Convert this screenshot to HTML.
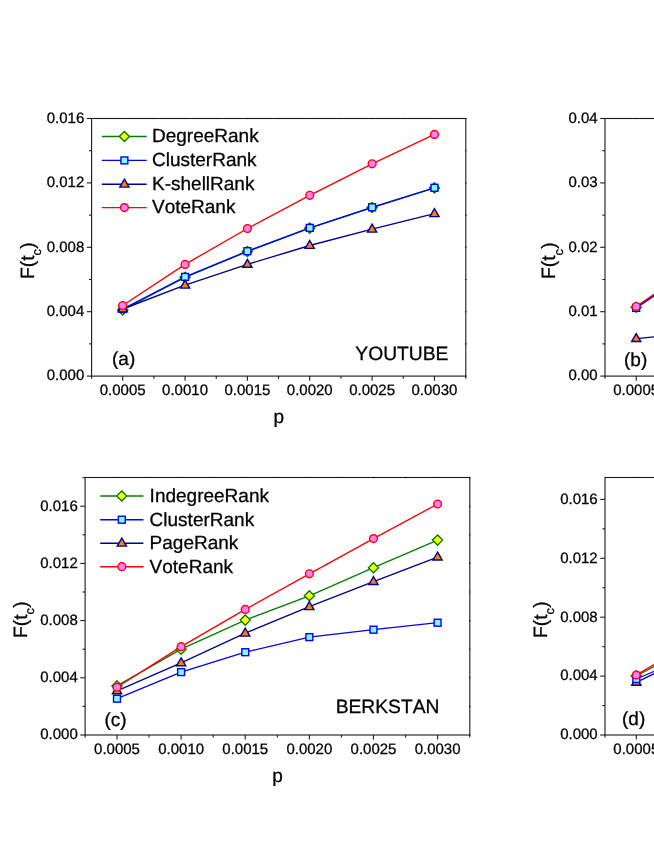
<!DOCTYPE html>
<html><head><meta charset="utf-8"><title>Figure</title>
<style>html,body{margin:0;padding:0;background:#fff;}svg{display:block;will-change:transform;}text{text-rendering:geometricPrecision;font-kerning:none;stroke:#000;stroke-width:0.28px;}</style>
</head><body>
<svg width="654" height="846" viewBox="0 0 654 846" font-family='"Liberation Sans", sans-serif' fill="#000">
<rect width="654" height="846" fill="#fff"/>
<rect x="91.6" y="118.5" width="374.20000000000005" height="257.6" fill="none" stroke="#1a1a1a" stroke-width="1.1"/>
<line x1="122.70" y1="376.1" x2="122.70" y2="380.70000000000005" stroke="#1a1a1a" stroke-width="1.1"/>
<text transform="translate(122.70 394.60) scale(1 1)" font-size="15.0" text-anchor="middle">0.0005</text>
<line x1="153.88" y1="376.1" x2="153.88" y2="378.70000000000005" stroke="#1a1a1a" stroke-width="1.1"/>
<line x1="185.05" y1="376.1" x2="185.05" y2="380.70000000000005" stroke="#1a1a1a" stroke-width="1.1"/>
<text transform="translate(185.05 394.60) scale(1 1)" font-size="15.0" text-anchor="middle">0.0010</text>
<line x1="216.23" y1="376.1" x2="216.23" y2="378.70000000000005" stroke="#1a1a1a" stroke-width="1.1"/>
<line x1="247.40" y1="376.1" x2="247.40" y2="380.70000000000005" stroke="#1a1a1a" stroke-width="1.1"/>
<text transform="translate(247.40 394.60) scale(1 1)" font-size="15.0" text-anchor="middle">0.0015</text>
<line x1="278.57" y1="376.1" x2="278.57" y2="378.70000000000005" stroke="#1a1a1a" stroke-width="1.1"/>
<line x1="309.75" y1="376.1" x2="309.75" y2="380.70000000000005" stroke="#1a1a1a" stroke-width="1.1"/>
<text transform="translate(309.75 394.60) scale(1 1)" font-size="15.0" text-anchor="middle">0.0020</text>
<line x1="340.93" y1="376.1" x2="340.93" y2="378.70000000000005" stroke="#1a1a1a" stroke-width="1.1"/>
<line x1="372.10" y1="376.1" x2="372.10" y2="380.70000000000005" stroke="#1a1a1a" stroke-width="1.1"/>
<text transform="translate(372.10 394.60) scale(1 1)" font-size="15.0" text-anchor="middle">0.0025</text>
<line x1="403.28" y1="376.1" x2="403.28" y2="378.70000000000005" stroke="#1a1a1a" stroke-width="1.1"/>
<line x1="434.45" y1="376.1" x2="434.45" y2="380.70000000000005" stroke="#1a1a1a" stroke-width="1.1"/>
<text transform="translate(434.45 394.60) scale(1 1)" font-size="15.0" text-anchor="middle">0.0030</text>
<line x1="91.60" y1="376.1" x2="91.60" y2="378.70000000000005" stroke="#1a1a1a" stroke-width="1.1"/>
<line x1="465.80" y1="376.1" x2="465.80" y2="378.70000000000005" stroke="#1a1a1a" stroke-width="1.1"/>
<line x1="86.8" y1="376.10" x2="91.6" y2="376.10" stroke="#1a1a1a" stroke-width="1.1"/>
<text transform="translate(84.30 380.10) scale(1 1)" font-size="15.0" text-anchor="end">0.000</text>
<line x1="86.8" y1="311.70" x2="91.6" y2="311.70" stroke="#1a1a1a" stroke-width="1.1"/>
<text transform="translate(84.30 316.10) scale(1 1)" font-size="15.0" text-anchor="end">0.004</text>
<line x1="86.8" y1="247.30" x2="91.6" y2="247.30" stroke="#1a1a1a" stroke-width="1.1"/>
<text transform="translate(84.30 252.10) scale(1 1)" font-size="15.0" text-anchor="end">0.008</text>
<line x1="86.8" y1="182.90" x2="91.6" y2="182.90" stroke="#1a1a1a" stroke-width="1.1"/>
<text transform="translate(84.30 187.10) scale(1 1)" font-size="15.0" text-anchor="end">0.012</text>
<line x1="86.8" y1="118.50" x2="91.6" y2="118.50" stroke="#1a1a1a" stroke-width="1.1"/>
<text transform="translate(84.30 123.10) scale(1 1)" font-size="15.0" text-anchor="end">0.016</text>
<line x1="89.0" y1="343.90" x2="91.6" y2="343.90" stroke="#1a1a1a" stroke-width="1.1"/>
<line x1="89.0" y1="279.50" x2="91.6" y2="279.50" stroke="#1a1a1a" stroke-width="1.1"/>
<line x1="89.0" y1="215.10" x2="91.6" y2="215.10" stroke="#1a1a1a" stroke-width="1.1"/>
<line x1="89.0" y1="150.70" x2="91.6" y2="150.70" stroke="#1a1a1a" stroke-width="1.1"/>
<line x1="122.70" y1="117.90" x2="122.70" y2="119.10" stroke="#000" stroke-width="1.1"/>
<line x1="185.05" y1="117.90" x2="185.05" y2="119.10" stroke="#000" stroke-width="1.1"/>
<line x1="247.40" y1="117.90" x2="247.40" y2="119.10" stroke="#000" stroke-width="1.1"/>
<line x1="309.75" y1="117.90" x2="309.75" y2="119.10" stroke="#000" stroke-width="1.1"/>
<line x1="372.10" y1="117.90" x2="372.10" y2="119.10" stroke="#000" stroke-width="1.1"/>
<line x1="434.45" y1="117.90" x2="434.45" y2="119.10" stroke="#000" stroke-width="1.1"/>
<line x1="153.88" y1="117.90" x2="153.88" y2="119.10" stroke="#000" stroke-width="1.1"/>
<line x1="216.23" y1="117.90" x2="216.23" y2="119.10" stroke="#000" stroke-width="1.1"/>
<line x1="278.57" y1="117.90" x2="278.57" y2="119.10" stroke="#000" stroke-width="1.1"/>
<line x1="340.93" y1="117.90" x2="340.93" y2="119.10" stroke="#000" stroke-width="1.1"/>
<line x1="403.28" y1="117.90" x2="403.28" y2="119.10" stroke="#000" stroke-width="1.1"/>
<line x1="465.20" y1="376.10" x2="466.40" y2="376.10" stroke="#000" stroke-width="1.1"/>
<line x1="465.20" y1="311.70" x2="466.40" y2="311.70" stroke="#000" stroke-width="1.1"/>
<line x1="465.20" y1="247.30" x2="466.40" y2="247.30" stroke="#000" stroke-width="1.1"/>
<line x1="465.20" y1="182.90" x2="466.40" y2="182.90" stroke="#000" stroke-width="1.1"/>
<line x1="465.20" y1="118.50" x2="466.40" y2="118.50" stroke="#000" stroke-width="1.1"/>
<line x1="465.20" y1="343.90" x2="466.40" y2="343.90" stroke="#000" stroke-width="1.1"/>
<line x1="465.20" y1="279.50" x2="466.40" y2="279.50" stroke="#000" stroke-width="1.1"/>
<line x1="465.20" y1="215.10" x2="466.40" y2="215.10" stroke="#000" stroke-width="1.1"/>
<line x1="465.20" y1="150.70" x2="466.40" y2="150.70" stroke="#000" stroke-width="1.1"/>
<text transform="translate(33.7,279) rotate(-90)" font-size="19.3">F(t<tspan font-size="12.74" dy="7.6">c</tspan><tspan dy="-7.6" dx="0.3">)</tspan></text>
<text transform="translate(112.00 364.60) scale(1 1)" font-size="19.0" text-anchor="start">(a)</text>
<text transform="translate(448.40 359.70) scale(1 1)" font-size="19.25" text-anchor="end">YOUTUBE</text>
<text transform="translate(278.70 423.40) scale(1 1)" font-size="19.0" text-anchor="middle">p</text>
<polyline points="122.70,309.90 185.05,277.30 247.40,251.50 309.75,228.10 372.10,207.50 434.45,187.90" fill="none" stroke="#008000" stroke-width="1.35"/>
<path d="M122.70 304.85L127.75 309.90L122.70 314.95L117.65 309.90Z" fill="#ffff00" stroke="#008000" stroke-width="1.4"/>
<path d="M185.05 272.25L190.10 277.30L185.05 282.35L180.00 277.30Z" fill="#ffff00" stroke="#008000" stroke-width="1.4"/>
<path d="M247.40 246.45L252.45 251.50L247.40 256.55L242.35 251.50Z" fill="#ffff00" stroke="#008000" stroke-width="1.4"/>
<path d="M309.75 223.05L314.80 228.10L309.75 233.15L304.70 228.10Z" fill="#ffff00" stroke="#008000" stroke-width="1.4"/>
<path d="M372.10 202.45L377.15 207.50L372.10 212.55L367.05 207.50Z" fill="#ffff00" stroke="#008000" stroke-width="1.4"/>
<path d="M434.45 182.85L439.50 187.90L434.45 192.95L429.40 187.90Z" fill="#ffff00" stroke="#008000" stroke-width="1.4"/>
<polyline points="122.70,309.00 185.05,276.90 247.40,251.20 309.75,227.90 372.10,207.30 434.45,187.80" fill="none" stroke="#0000ff" stroke-width="1.35"/>
<rect x="119.25" y="305.55" width="6.90" height="6.90" fill="#80ffff" stroke="#0000ff" stroke-width="1.4"/>
<rect x="181.60" y="273.45" width="6.90" height="6.90" fill="#80ffff" stroke="#0000ff" stroke-width="1.4"/>
<rect x="243.95" y="247.75" width="6.90" height="6.90" fill="#80ffff" stroke="#0000ff" stroke-width="1.4"/>
<rect x="306.30" y="224.45" width="6.90" height="6.90" fill="#80ffff" stroke="#0000ff" stroke-width="1.4"/>
<rect x="368.65" y="203.85" width="6.90" height="6.90" fill="#80ffff" stroke="#0000ff" stroke-width="1.4"/>
<rect x="431.00" y="184.35" width="6.90" height="6.90" fill="#80ffff" stroke="#0000ff" stroke-width="1.4"/>
<polyline points="122.70,309.00 185.05,285.20 247.40,264.40 309.75,245.50 372.10,229.20 434.45,213.70" fill="none" stroke="#000090" stroke-width="1.35"/>
<path d="M122.70 304.00L127.30 311.90L118.10 311.90Z" fill="#ff8000" stroke="#000090" stroke-width="1.4"/>
<path d="M185.05 280.20L189.65 288.10L180.45 288.10Z" fill="#ff8000" stroke="#000090" stroke-width="1.4"/>
<path d="M247.40 259.40L252.00 267.30L242.80 267.30Z" fill="#ff8000" stroke="#000090" stroke-width="1.4"/>
<path d="M309.75 240.50L314.35 248.40L305.15 248.40Z" fill="#ff8000" stroke="#000090" stroke-width="1.4"/>
<path d="M372.10 224.20L376.70 232.10L367.50 232.10Z" fill="#ff8000" stroke="#000090" stroke-width="1.4"/>
<path d="M434.45 208.70L439.05 216.60L429.85 216.60Z" fill="#ff8000" stroke="#000090" stroke-width="1.4"/>
<polyline points="122.70,305.50 185.05,264.40 247.40,228.50 309.75,195.30 372.10,163.80 434.45,134.40" fill="none" stroke="#ff0000" stroke-width="1.35"/>
<circle cx="122.70" cy="305.50" r="3.9" fill="#ff80ff" stroke="#ff0000" stroke-width="1.4"/>
<circle cx="185.05" cy="264.40" r="3.9" fill="#ff80ff" stroke="#ff0000" stroke-width="1.4"/>
<circle cx="247.40" cy="228.50" r="3.9" fill="#ff80ff" stroke="#ff0000" stroke-width="1.4"/>
<circle cx="309.75" cy="195.30" r="3.9" fill="#ff80ff" stroke="#ff0000" stroke-width="1.4"/>
<circle cx="372.10" cy="163.80" r="3.9" fill="#ff80ff" stroke="#ff0000" stroke-width="1.4"/>
<circle cx="434.45" cy="134.40" r="3.9" fill="#ff80ff" stroke="#ff0000" stroke-width="1.4"/>
<line x1="101.9" y1="136.5" x2="146.7" y2="136.5" stroke="#008000" stroke-width="1.35"/>
<path d="M124.40 131.45L129.45 136.50L124.40 141.55L119.35 136.50Z" fill="#ffff00" stroke="#008000" stroke-width="1.4"/>
<text transform="translate(152.00 142.30) scale(1 1)" font-size="19.0" text-anchor="start">DegreeRank</text>
<line x1="101.9" y1="160.4" x2="146.7" y2="160.4" stroke="#0000ff" stroke-width="1.35"/>
<rect x="120.95" y="156.95" width="6.90" height="6.90" fill="#80ffff" stroke="#0000ff" stroke-width="1.4"/>
<text transform="translate(152.00 166.20) scale(1 1)" font-size="19.0" text-anchor="start">ClusterRank</text>
<line x1="101.9" y1="184.2" x2="146.7" y2="184.2" stroke="#000090" stroke-width="1.35"/>
<path d="M124.40 179.20L129.00 187.10L119.80 187.10Z" fill="#ff8000" stroke="#000090" stroke-width="1.4"/>
<text transform="translate(152.00 190.00) scale(1 1)" font-size="19.0" text-anchor="start">K-shellRank</text>
<line x1="101.9" y1="207.6" x2="146.7" y2="207.6" stroke="#ff0000" stroke-width="1.35"/>
<circle cx="124.40" cy="207.60" r="3.9" fill="#ff80ff" stroke="#ff0000" stroke-width="1.4"/>
<text transform="translate(152.00 213.40) scale(1 1)" font-size="19.0" text-anchor="start">VoteRank</text>
<rect x="605.0" y="118.5" width="374.20000000000005" height="257.6" fill="none" stroke="#1a1a1a" stroke-width="1.1"/>
<line x1="636.20" y1="376.1" x2="636.20" y2="380.70000000000005" stroke="#1a1a1a" stroke-width="1.1"/>
<text transform="translate(636.20 394.60) scale(1 1)" font-size="15.0" text-anchor="middle">0.0005</text>
<line x1="667.38" y1="376.1" x2="667.38" y2="378.70000000000005" stroke="#1a1a1a" stroke-width="1.1"/>
<line x1="698.55" y1="376.1" x2="698.55" y2="380.70000000000005" stroke="#1a1a1a" stroke-width="1.1"/>
<text transform="translate(698.55 394.60) scale(1 1)" font-size="15.0" text-anchor="middle">0.0010</text>
<line x1="729.73" y1="376.1" x2="729.73" y2="378.70000000000005" stroke="#1a1a1a" stroke-width="1.1"/>
<line x1="760.90" y1="376.1" x2="760.90" y2="380.70000000000005" stroke="#1a1a1a" stroke-width="1.1"/>
<text transform="translate(760.90 394.60) scale(1 1)" font-size="15.0" text-anchor="middle">0.0015</text>
<line x1="792.08" y1="376.1" x2="792.08" y2="378.70000000000005" stroke="#1a1a1a" stroke-width="1.1"/>
<line x1="823.25" y1="376.1" x2="823.25" y2="380.70000000000005" stroke="#1a1a1a" stroke-width="1.1"/>
<text transform="translate(823.25 394.60) scale(1 1)" font-size="15.0" text-anchor="middle">0.0020</text>
<line x1="854.42" y1="376.1" x2="854.42" y2="378.70000000000005" stroke="#1a1a1a" stroke-width="1.1"/>
<line x1="885.60" y1="376.1" x2="885.60" y2="380.70000000000005" stroke="#1a1a1a" stroke-width="1.1"/>
<text transform="translate(885.60 394.60) scale(1 1)" font-size="15.0" text-anchor="middle">0.0025</text>
<line x1="916.77" y1="376.1" x2="916.77" y2="378.70000000000005" stroke="#1a1a1a" stroke-width="1.1"/>
<line x1="947.95" y1="376.1" x2="947.95" y2="380.70000000000005" stroke="#1a1a1a" stroke-width="1.1"/>
<text transform="translate(947.95 394.60) scale(1 1)" font-size="15.0" text-anchor="middle">0.0030</text>
<line x1="605.00" y1="376.1" x2="605.00" y2="378.70000000000005" stroke="#1a1a1a" stroke-width="1.1"/>
<line x1="979.20" y1="376.1" x2="979.20" y2="378.70000000000005" stroke="#1a1a1a" stroke-width="1.1"/>
<line x1="600.2" y1="376.10" x2="605.0" y2="376.10" stroke="#1a1a1a" stroke-width="1.1"/>
<text transform="translate(597.70 380.10) scale(1 1)" font-size="15.0" text-anchor="end">0.00</text>
<line x1="600.2" y1="311.70" x2="605.0" y2="311.70" stroke="#1a1a1a" stroke-width="1.1"/>
<text transform="translate(597.70 316.10) scale(1 1)" font-size="15.0" text-anchor="end">0.01</text>
<line x1="600.2" y1="247.30" x2="605.0" y2="247.30" stroke="#1a1a1a" stroke-width="1.1"/>
<text transform="translate(597.70 252.10) scale(1 1)" font-size="15.0" text-anchor="end">0.02</text>
<line x1="600.2" y1="182.90" x2="605.0" y2="182.90" stroke="#1a1a1a" stroke-width="1.1"/>
<text transform="translate(597.70 187.10) scale(1 1)" font-size="15.0" text-anchor="end">0.03</text>
<line x1="600.2" y1="118.50" x2="605.0" y2="118.50" stroke="#1a1a1a" stroke-width="1.1"/>
<text transform="translate(597.70 123.10) scale(1 1)" font-size="15.0" text-anchor="end">0.04</text>
<line x1="602.4" y1="343.90" x2="605.0" y2="343.90" stroke="#1a1a1a" stroke-width="1.1"/>
<line x1="602.4" y1="279.50" x2="605.0" y2="279.50" stroke="#1a1a1a" stroke-width="1.1"/>
<line x1="602.4" y1="215.10" x2="605.0" y2="215.10" stroke="#1a1a1a" stroke-width="1.1"/>
<line x1="602.4" y1="150.70" x2="605.0" y2="150.70" stroke="#1a1a1a" stroke-width="1.1"/>
<line x1="636.20" y1="117.90" x2="636.20" y2="119.10" stroke="#000" stroke-width="1.1"/>
<line x1="698.55" y1="117.90" x2="698.55" y2="119.10" stroke="#000" stroke-width="1.1"/>
<line x1="760.90" y1="117.90" x2="760.90" y2="119.10" stroke="#000" stroke-width="1.1"/>
<line x1="823.25" y1="117.90" x2="823.25" y2="119.10" stroke="#000" stroke-width="1.1"/>
<line x1="885.60" y1="117.90" x2="885.60" y2="119.10" stroke="#000" stroke-width="1.1"/>
<line x1="947.95" y1="117.90" x2="947.95" y2="119.10" stroke="#000" stroke-width="1.1"/>
<line x1="667.38" y1="117.90" x2="667.38" y2="119.10" stroke="#000" stroke-width="1.1"/>
<line x1="729.73" y1="117.90" x2="729.73" y2="119.10" stroke="#000" stroke-width="1.1"/>
<line x1="792.08" y1="117.90" x2="792.08" y2="119.10" stroke="#000" stroke-width="1.1"/>
<line x1="854.42" y1="117.90" x2="854.42" y2="119.10" stroke="#000" stroke-width="1.1"/>
<line x1="916.77" y1="117.90" x2="916.77" y2="119.10" stroke="#000" stroke-width="1.1"/>
<line x1="978.60" y1="376.10" x2="979.80" y2="376.10" stroke="#000" stroke-width="1.1"/>
<line x1="978.60" y1="311.70" x2="979.80" y2="311.70" stroke="#000" stroke-width="1.1"/>
<line x1="978.60" y1="247.30" x2="979.80" y2="247.30" stroke="#000" stroke-width="1.1"/>
<line x1="978.60" y1="182.90" x2="979.80" y2="182.90" stroke="#000" stroke-width="1.1"/>
<line x1="978.60" y1="118.50" x2="979.80" y2="118.50" stroke="#000" stroke-width="1.1"/>
<line x1="978.60" y1="343.90" x2="979.80" y2="343.90" stroke="#000" stroke-width="1.1"/>
<line x1="978.60" y1="279.50" x2="979.80" y2="279.50" stroke="#000" stroke-width="1.1"/>
<line x1="978.60" y1="215.10" x2="979.80" y2="215.10" stroke="#000" stroke-width="1.1"/>
<line x1="978.60" y1="150.70" x2="979.80" y2="150.70" stroke="#000" stroke-width="1.1"/>
<text transform="translate(555.1,279) rotate(-90)" font-size="19.3">F(t<tspan font-size="12.74" dy="7.6">c</tspan><tspan dy="-7.6" dx="0.3">)</tspan></text>
<text transform="translate(624.00 365.60) scale(1 1)" font-size="19.0" text-anchor="start">(b)</text>
<polyline points="636.20,307.20 698.55,265.00" fill="none" stroke="#008000" stroke-width="1.35"/>
<path d="M636.20 302.15L641.25 307.20L636.20 312.25L631.15 307.20Z" fill="#ffff00" stroke="#008000" stroke-width="1.4"/>
<path d="M698.55 259.95L703.60 265.00L698.55 270.05L693.50 265.00Z" fill="#ffff00" stroke="#008000" stroke-width="1.4"/>
<polyline points="636.20,307.90 698.55,265.60" fill="none" stroke="#0000ff" stroke-width="1.35"/>
<rect x="632.75" y="304.45" width="6.90" height="6.90" fill="#80ffff" stroke="#0000ff" stroke-width="1.4"/>
<rect x="695.10" y="262.15" width="6.90" height="6.90" fill="#80ffff" stroke="#0000ff" stroke-width="1.4"/>
<polyline points="636.20,338.60 698.55,332.50" fill="none" stroke="#000090" stroke-width="1.35"/>
<path d="M636.20 333.60L640.80 341.50L631.60 341.50Z" fill="#ff8000" stroke="#000090" stroke-width="1.4"/>
<path d="M698.55 327.50L703.15 335.40L693.95 335.40Z" fill="#ff8000" stroke="#000090" stroke-width="1.4"/>
<polyline points="636.20,306.50 698.55,264.10" fill="none" stroke="#ff0000" stroke-width="1.35"/>
<circle cx="636.20" cy="306.50" r="3.9" fill="#ff80ff" stroke="#ff0000" stroke-width="1.4"/>
<circle cx="698.55" cy="264.10" r="3.9" fill="#ff80ff" stroke="#ff0000" stroke-width="1.4"/>
<rect x="85.1" y="477.5" width="384.70000000000005" height="257.5" fill="none" stroke="#1a1a1a" stroke-width="1.1"/>
<line x1="117.00" y1="735.0" x2="117.00" y2="739.6" stroke="#1a1a1a" stroke-width="1.1"/>
<text transform="translate(117.00 753.60) scale(1 1)" font-size="15.0" text-anchor="middle">0.0005</text>
<line x1="149.06" y1="735.0" x2="149.06" y2="737.6" stroke="#1a1a1a" stroke-width="1.1"/>
<line x1="181.12" y1="735.0" x2="181.12" y2="739.6" stroke="#1a1a1a" stroke-width="1.1"/>
<text transform="translate(181.12 753.60) scale(1 1)" font-size="15.0" text-anchor="middle">0.0010</text>
<line x1="213.18" y1="735.0" x2="213.18" y2="737.6" stroke="#1a1a1a" stroke-width="1.1"/>
<line x1="245.24" y1="735.0" x2="245.24" y2="739.6" stroke="#1a1a1a" stroke-width="1.1"/>
<text transform="translate(245.24 753.60) scale(1 1)" font-size="15.0" text-anchor="middle">0.0015</text>
<line x1="277.30" y1="735.0" x2="277.30" y2="737.6" stroke="#1a1a1a" stroke-width="1.1"/>
<line x1="309.36" y1="735.0" x2="309.36" y2="739.6" stroke="#1a1a1a" stroke-width="1.1"/>
<text transform="translate(309.36 753.60) scale(1 1)" font-size="15.0" text-anchor="middle">0.0020</text>
<line x1="341.42" y1="735.0" x2="341.42" y2="737.6" stroke="#1a1a1a" stroke-width="1.1"/>
<line x1="373.48" y1="735.0" x2="373.48" y2="739.6" stroke="#1a1a1a" stroke-width="1.1"/>
<text transform="translate(373.48 753.60) scale(1 1)" font-size="15.0" text-anchor="middle">0.0025</text>
<line x1="405.54" y1="735.0" x2="405.54" y2="737.6" stroke="#1a1a1a" stroke-width="1.1"/>
<line x1="437.60" y1="735.0" x2="437.60" y2="739.6" stroke="#1a1a1a" stroke-width="1.1"/>
<text transform="translate(437.60 753.60) scale(1 1)" font-size="15.0" text-anchor="middle">0.0030</text>
<line x1="85.10" y1="735.0" x2="85.10" y2="737.6" stroke="#1a1a1a" stroke-width="1.1"/>
<line x1="469.80" y1="735.0" x2="469.80" y2="737.6" stroke="#1a1a1a" stroke-width="1.1"/>
<line x1="80.3" y1="735.00" x2="85.1" y2="735.00" stroke="#1a1a1a" stroke-width="1.1"/>
<text transform="translate(77.80 739.10) scale(1 1)" font-size="15.0" text-anchor="end">0.000</text>
<line x1="80.3" y1="677.80" x2="85.1" y2="677.80" stroke="#1a1a1a" stroke-width="1.1"/>
<text transform="translate(77.80 682.10) scale(1 1)" font-size="15.0" text-anchor="end">0.004</text>
<line x1="80.3" y1="620.60" x2="85.1" y2="620.60" stroke="#1a1a1a" stroke-width="1.1"/>
<text transform="translate(77.80 625.10) scale(1 1)" font-size="15.0" text-anchor="end">0.008</text>
<line x1="80.3" y1="563.40" x2="85.1" y2="563.40" stroke="#1a1a1a" stroke-width="1.1"/>
<text transform="translate(77.80 568.10) scale(1 1)" font-size="15.0" text-anchor="end">0.012</text>
<line x1="80.3" y1="506.20" x2="85.1" y2="506.20" stroke="#1a1a1a" stroke-width="1.1"/>
<text transform="translate(77.80 511.10) scale(1 1)" font-size="15.0" text-anchor="end">0.016</text>
<line x1="82.5" y1="706.40" x2="85.1" y2="706.40" stroke="#1a1a1a" stroke-width="1.1"/>
<line x1="82.5" y1="649.20" x2="85.1" y2="649.20" stroke="#1a1a1a" stroke-width="1.1"/>
<line x1="82.5" y1="592.00" x2="85.1" y2="592.00" stroke="#1a1a1a" stroke-width="1.1"/>
<line x1="82.5" y1="534.80" x2="85.1" y2="534.80" stroke="#1a1a1a" stroke-width="1.1"/>
<line x1="82.5" y1="477.60" x2="85.1" y2="477.60" stroke="#1a1a1a" stroke-width="1.1"/>
<line x1="117.00" y1="476.90" x2="117.00" y2="478.10" stroke="#000" stroke-width="1.1"/>
<line x1="181.12" y1="476.90" x2="181.12" y2="478.10" stroke="#000" stroke-width="1.1"/>
<line x1="245.24" y1="476.90" x2="245.24" y2="478.10" stroke="#000" stroke-width="1.1"/>
<line x1="309.36" y1="476.90" x2="309.36" y2="478.10" stroke="#000" stroke-width="1.1"/>
<line x1="373.48" y1="476.90" x2="373.48" y2="478.10" stroke="#000" stroke-width="1.1"/>
<line x1="437.60" y1="476.90" x2="437.60" y2="478.10" stroke="#000" stroke-width="1.1"/>
<line x1="149.06" y1="476.90" x2="149.06" y2="478.10" stroke="#000" stroke-width="1.1"/>
<line x1="213.18" y1="476.90" x2="213.18" y2="478.10" stroke="#000" stroke-width="1.1"/>
<line x1="277.30" y1="476.90" x2="277.30" y2="478.10" stroke="#000" stroke-width="1.1"/>
<line x1="341.42" y1="476.90" x2="341.42" y2="478.10" stroke="#000" stroke-width="1.1"/>
<line x1="405.54" y1="476.90" x2="405.54" y2="478.10" stroke="#000" stroke-width="1.1"/>
<line x1="469.20" y1="735.00" x2="470.40" y2="735.00" stroke="#000" stroke-width="1.1"/>
<line x1="469.20" y1="677.80" x2="470.40" y2="677.80" stroke="#000" stroke-width="1.1"/>
<line x1="469.20" y1="620.60" x2="470.40" y2="620.60" stroke="#000" stroke-width="1.1"/>
<line x1="469.20" y1="563.40" x2="470.40" y2="563.40" stroke="#000" stroke-width="1.1"/>
<line x1="469.20" y1="506.20" x2="470.40" y2="506.20" stroke="#000" stroke-width="1.1"/>
<line x1="469.20" y1="706.40" x2="470.40" y2="706.40" stroke="#000" stroke-width="1.1"/>
<line x1="469.20" y1="649.20" x2="470.40" y2="649.20" stroke="#000" stroke-width="1.1"/>
<line x1="469.20" y1="592.00" x2="470.40" y2="592.00" stroke="#000" stroke-width="1.1"/>
<line x1="469.20" y1="534.80" x2="470.40" y2="534.80" stroke="#000" stroke-width="1.1"/>
<line x1="469.20" y1="477.60" x2="470.40" y2="477.60" stroke="#000" stroke-width="1.1"/>
<text transform="translate(26.8,638) rotate(-90)" font-size="19.3">F(t<tspan font-size="12.74" dy="7.6">c</tspan><tspan dy="-7.6" dx="0.3">)</tspan></text>
<text transform="translate(104.50 725.60) scale(1 1)" font-size="19.0" text-anchor="start">(c)</text>
<text transform="translate(439.40 713.00) scale(1 1)" font-size="19.25" text-anchor="end">BERKSTAN</text>
<text transform="translate(277.45 782.00) scale(1 1)" font-size="19.0" text-anchor="middle">p</text>
<polyline points="117.00,685.90 181.12,649.20 245.24,620.10 309.36,595.80 373.48,567.70 437.60,540.10" fill="none" stroke="#008000" stroke-width="1.35"/>
<path d="M117.00 680.85L122.05 685.90L117.00 690.95L111.95 685.90Z" fill="#ffff00" stroke="#008000" stroke-width="1.4"/>
<path d="M181.12 644.15L186.17 649.20L181.12 654.25L176.07 649.20Z" fill="#ffff00" stroke="#008000" stroke-width="1.4"/>
<path d="M245.24 615.05L250.29 620.10L245.24 625.15L240.19 620.10Z" fill="#ffff00" stroke="#008000" stroke-width="1.4"/>
<path d="M309.36 590.75L314.41 595.80L309.36 600.85L304.31 595.80Z" fill="#ffff00" stroke="#008000" stroke-width="1.4"/>
<path d="M373.48 562.65L378.53 567.70L373.48 572.75L368.43 567.70Z" fill="#ffff00" stroke="#008000" stroke-width="1.4"/>
<path d="M437.60 535.05L442.65 540.10L437.60 545.15L432.55 540.10Z" fill="#ffff00" stroke="#008000" stroke-width="1.4"/>
<polyline points="117.00,698.70 181.12,672.10 245.24,652.20 309.36,637.10 373.48,629.70 437.60,622.70" fill="none" stroke="#0000ff" stroke-width="1.35"/>
<rect x="113.55" y="695.25" width="6.90" height="6.90" fill="#80ffff" stroke="#0000ff" stroke-width="1.4"/>
<rect x="177.67" y="668.65" width="6.90" height="6.90" fill="#80ffff" stroke="#0000ff" stroke-width="1.4"/>
<rect x="241.79" y="648.75" width="6.90" height="6.90" fill="#80ffff" stroke="#0000ff" stroke-width="1.4"/>
<rect x="305.91" y="633.65" width="6.90" height="6.90" fill="#80ffff" stroke="#0000ff" stroke-width="1.4"/>
<rect x="370.03" y="626.25" width="6.90" height="6.90" fill="#80ffff" stroke="#0000ff" stroke-width="1.4"/>
<rect x="434.15" y="619.25" width="6.90" height="6.90" fill="#80ffff" stroke="#0000ff" stroke-width="1.4"/>
<polyline points="117.00,690.90 181.12,662.80 245.24,633.20 309.36,606.70 373.48,581.60 437.60,557.10" fill="none" stroke="#000090" stroke-width="1.35"/>
<path d="M117.00 685.90L121.60 693.80L112.40 693.80Z" fill="#ff8000" stroke="#000090" stroke-width="1.4"/>
<path d="M181.12 657.80L185.72 665.70L176.52 665.70Z" fill="#ff8000" stroke="#000090" stroke-width="1.4"/>
<path d="M245.24 628.20L249.84 636.10L240.64 636.10Z" fill="#ff8000" stroke="#000090" stroke-width="1.4"/>
<path d="M309.36 601.70L313.96 609.60L304.76 609.60Z" fill="#ff8000" stroke="#000090" stroke-width="1.4"/>
<path d="M373.48 576.60L378.08 584.50L368.88 584.50Z" fill="#ff8000" stroke="#000090" stroke-width="1.4"/>
<path d="M437.60 552.10L442.20 560.00L433.00 560.00Z" fill="#ff8000" stroke="#000090" stroke-width="1.4"/>
<polyline points="117.00,687.20 181.12,646.70 245.24,609.40 309.36,573.80 373.48,538.60 437.60,504.00" fill="none" stroke="#ff0000" stroke-width="1.35"/>
<circle cx="117.00" cy="687.20" r="3.9" fill="#ff80ff" stroke="#ff0000" stroke-width="1.4"/>
<circle cx="181.12" cy="646.70" r="3.9" fill="#ff80ff" stroke="#ff0000" stroke-width="1.4"/>
<circle cx="245.24" cy="609.40" r="3.9" fill="#ff80ff" stroke="#ff0000" stroke-width="1.4"/>
<circle cx="309.36" cy="573.80" r="3.9" fill="#ff80ff" stroke="#ff0000" stroke-width="1.4"/>
<circle cx="373.48" cy="538.60" r="3.9" fill="#ff80ff" stroke="#ff0000" stroke-width="1.4"/>
<circle cx="437.60" cy="504.00" r="3.9" fill="#ff80ff" stroke="#ff0000" stroke-width="1.4"/>
<line x1="100.2" y1="496.0" x2="143.4" y2="496.0" stroke="#008000" stroke-width="1.35"/>
<path d="M121.80 490.95L126.85 496.00L121.80 501.05L116.75 496.00Z" fill="#ffff00" stroke="#008000" stroke-width="1.4"/>
<text transform="translate(149.60 501.80) scale(1 1)" font-size="19.0" text-anchor="start">IndegreeRank</text>
<line x1="100.2" y1="519.7" x2="143.4" y2="519.7" stroke="#0000ff" stroke-width="1.35"/>
<rect x="118.35" y="516.25" width="6.90" height="6.90" fill="#80ffff" stroke="#0000ff" stroke-width="1.4"/>
<text transform="translate(149.60 525.50) scale(1 1)" font-size="19.0" text-anchor="start">ClusterRank</text>
<line x1="100.2" y1="543.2" x2="143.4" y2="543.2" stroke="#000090" stroke-width="1.35"/>
<path d="M121.80 538.20L126.40 546.10L117.20 546.10Z" fill="#ff8000" stroke="#000090" stroke-width="1.4"/>
<text transform="translate(149.60 549.00) scale(1 1)" font-size="19.0" text-anchor="start">PageRank</text>
<line x1="100.2" y1="566.7" x2="143.4" y2="566.7" stroke="#ff0000" stroke-width="1.35"/>
<circle cx="121.80" cy="566.70" r="3.9" fill="#ff80ff" stroke="#ff0000" stroke-width="1.4"/>
<text transform="translate(149.60 572.50) scale(1 1)" font-size="19.0" text-anchor="start">VoteRank</text>
<rect x="605.0" y="477.5" width="384.70000000000005" height="257.5" fill="none" stroke="#1a1a1a" stroke-width="1.1"/>
<line x1="636.30" y1="735.0" x2="636.30" y2="739.6" stroke="#1a1a1a" stroke-width="1.1"/>
<text transform="translate(636.30 753.60) scale(1 1)" font-size="15.0" text-anchor="middle">0.0005</text>
<line x1="668.36" y1="735.0" x2="668.36" y2="737.6" stroke="#1a1a1a" stroke-width="1.1"/>
<line x1="700.42" y1="735.0" x2="700.42" y2="739.6" stroke="#1a1a1a" stroke-width="1.1"/>
<text transform="translate(700.42 753.60) scale(1 1)" font-size="15.0" text-anchor="middle">0.0010</text>
<line x1="732.48" y1="735.0" x2="732.48" y2="737.6" stroke="#1a1a1a" stroke-width="1.1"/>
<line x1="764.54" y1="735.0" x2="764.54" y2="739.6" stroke="#1a1a1a" stroke-width="1.1"/>
<text transform="translate(764.54 753.60) scale(1 1)" font-size="15.0" text-anchor="middle">0.0015</text>
<line x1="796.60" y1="735.0" x2="796.60" y2="737.6" stroke="#1a1a1a" stroke-width="1.1"/>
<line x1="828.66" y1="735.0" x2="828.66" y2="739.6" stroke="#1a1a1a" stroke-width="1.1"/>
<text transform="translate(828.66 753.60) scale(1 1)" font-size="15.0" text-anchor="middle">0.0020</text>
<line x1="860.72" y1="735.0" x2="860.72" y2="737.6" stroke="#1a1a1a" stroke-width="1.1"/>
<line x1="892.78" y1="735.0" x2="892.78" y2="739.6" stroke="#1a1a1a" stroke-width="1.1"/>
<text transform="translate(892.78 753.60) scale(1 1)" font-size="15.0" text-anchor="middle">0.0025</text>
<line x1="924.84" y1="735.0" x2="924.84" y2="737.6" stroke="#1a1a1a" stroke-width="1.1"/>
<line x1="956.90" y1="735.0" x2="956.90" y2="739.6" stroke="#1a1a1a" stroke-width="1.1"/>
<text transform="translate(956.90 753.60) scale(1 1)" font-size="15.0" text-anchor="middle">0.0030</text>
<line x1="605.00" y1="735.0" x2="605.00" y2="737.6" stroke="#1a1a1a" stroke-width="1.1"/>
<line x1="989.70" y1="735.0" x2="989.70" y2="737.6" stroke="#1a1a1a" stroke-width="1.1"/>
<line x1="600.2" y1="735.00" x2="605.0" y2="735.00" stroke="#1a1a1a" stroke-width="1.1"/>
<text transform="translate(597.70 739.10) scale(1 1)" font-size="15.0" text-anchor="end">0.000</text>
<line x1="600.2" y1="676.10" x2="605.0" y2="676.10" stroke="#1a1a1a" stroke-width="1.1"/>
<text transform="translate(597.70 680.10) scale(1 1)" font-size="15.0" text-anchor="end">0.004</text>
<line x1="600.2" y1="617.20" x2="605.0" y2="617.20" stroke="#1a1a1a" stroke-width="1.1"/>
<text transform="translate(597.70 622.10) scale(1 1)" font-size="15.0" text-anchor="end">0.008</text>
<line x1="600.2" y1="558.30" x2="605.0" y2="558.30" stroke="#1a1a1a" stroke-width="1.1"/>
<text transform="translate(597.70 563.10) scale(1 1)" font-size="15.0" text-anchor="end">0.012</text>
<line x1="600.2" y1="499.40" x2="605.0" y2="499.40" stroke="#1a1a1a" stroke-width="1.1"/>
<text transform="translate(597.70 504.10) scale(1 1)" font-size="15.0" text-anchor="end">0.016</text>
<line x1="602.4" y1="705.55" x2="605.0" y2="705.55" stroke="#1a1a1a" stroke-width="1.1"/>
<line x1="602.4" y1="646.65" x2="605.0" y2="646.65" stroke="#1a1a1a" stroke-width="1.1"/>
<line x1="602.4" y1="587.75" x2="605.0" y2="587.75" stroke="#1a1a1a" stroke-width="1.1"/>
<line x1="602.4" y1="528.85" x2="605.0" y2="528.85" stroke="#1a1a1a" stroke-width="1.1"/>
<line x1="636.30" y1="476.90" x2="636.30" y2="478.10" stroke="#000" stroke-width="1.1"/>
<line x1="700.42" y1="476.90" x2="700.42" y2="478.10" stroke="#000" stroke-width="1.1"/>
<line x1="764.54" y1="476.90" x2="764.54" y2="478.10" stroke="#000" stroke-width="1.1"/>
<line x1="828.66" y1="476.90" x2="828.66" y2="478.10" stroke="#000" stroke-width="1.1"/>
<line x1="892.78" y1="476.90" x2="892.78" y2="478.10" stroke="#000" stroke-width="1.1"/>
<line x1="956.90" y1="476.90" x2="956.90" y2="478.10" stroke="#000" stroke-width="1.1"/>
<line x1="668.36" y1="476.90" x2="668.36" y2="478.10" stroke="#000" stroke-width="1.1"/>
<line x1="732.48" y1="476.90" x2="732.48" y2="478.10" stroke="#000" stroke-width="1.1"/>
<line x1="796.60" y1="476.90" x2="796.60" y2="478.10" stroke="#000" stroke-width="1.1"/>
<line x1="860.72" y1="476.90" x2="860.72" y2="478.10" stroke="#000" stroke-width="1.1"/>
<line x1="924.84" y1="476.90" x2="924.84" y2="478.10" stroke="#000" stroke-width="1.1"/>
<line x1="989.10" y1="735.00" x2="990.30" y2="735.00" stroke="#000" stroke-width="1.1"/>
<line x1="989.10" y1="676.10" x2="990.30" y2="676.10" stroke="#000" stroke-width="1.1"/>
<line x1="989.10" y1="617.20" x2="990.30" y2="617.20" stroke="#000" stroke-width="1.1"/>
<line x1="989.10" y1="558.30" x2="990.30" y2="558.30" stroke="#000" stroke-width="1.1"/>
<line x1="989.10" y1="499.40" x2="990.30" y2="499.40" stroke="#000" stroke-width="1.1"/>
<line x1="989.10" y1="705.55" x2="990.30" y2="705.55" stroke="#000" stroke-width="1.1"/>
<line x1="989.10" y1="646.65" x2="990.30" y2="646.65" stroke="#000" stroke-width="1.1"/>
<line x1="989.10" y1="587.75" x2="990.30" y2="587.75" stroke="#000" stroke-width="1.1"/>
<line x1="989.10" y1="528.85" x2="990.30" y2="528.85" stroke="#000" stroke-width="1.1"/>
<text transform="translate(546.8,638) rotate(-90)" font-size="19.3">F(t<tspan font-size="12.74" dy="7.6">c</tspan><tspan dy="-7.6" dx="0.3">)</tspan></text>
<text transform="translate(622.00 725.10) scale(1 1)" font-size="19.0" text-anchor="start">(d)</text>
<polyline points="636.30,676.00 700.42,641.38" fill="none" stroke="#008000" stroke-width="1.35"/>
<path d="M636.30 670.95L641.35 676.00L636.30 681.05L631.25 676.00Z" fill="#ffff00" stroke="#008000" stroke-width="1.4"/>
<path d="M700.42 636.33L705.47 641.38L700.42 646.43L695.37 641.38Z" fill="#ffff00" stroke="#008000" stroke-width="1.4"/>
<polyline points="636.30,682.40 700.42,651.30" fill="none" stroke="#000090" stroke-width="1.35"/>
<path d="M636.30 677.40L640.90 685.30L631.70 685.30Z" fill="#ff8000" stroke="#000090" stroke-width="1.4"/>
<path d="M700.42 646.30L705.02 654.20L695.82 654.20Z" fill="#ff8000" stroke="#000090" stroke-width="1.4"/>
<polyline points="636.30,679.00 700.42,651.43" fill="none" stroke="#0000ff" stroke-width="1.35"/>
<rect x="632.85" y="675.55" width="6.90" height="6.90" fill="#80ffff" stroke="#0000ff" stroke-width="1.4"/>
<rect x="696.97" y="647.98" width="6.90" height="6.90" fill="#80ffff" stroke="#0000ff" stroke-width="1.4"/>
<polyline points="636.30,675.10 700.42,636.63" fill="none" stroke="#ff0000" stroke-width="1.35"/>
<circle cx="636.30" cy="675.10" r="3.9" fill="#ff80ff" stroke="#ff0000" stroke-width="1.4"/>
<circle cx="700.42" cy="636.63" r="3.9" fill="#ff80ff" stroke="#ff0000" stroke-width="1.4"/>
</svg>
</body></html>
